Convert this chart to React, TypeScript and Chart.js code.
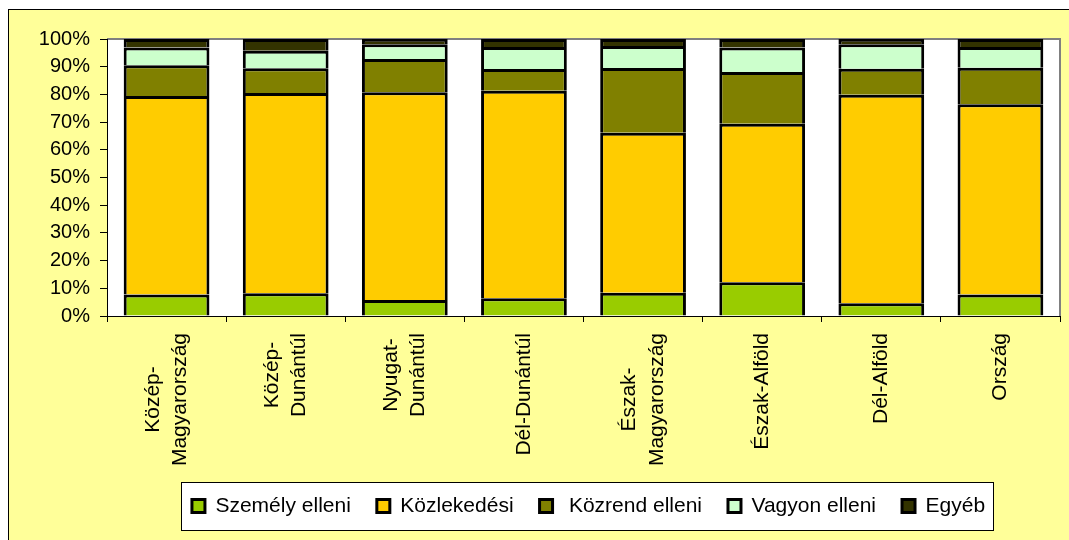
import React, { useEffect, useRef } from 'react';
import { Chart, registerables, CategoryScale } from 'chart.js';

Chart.register(...registerables);

// Category scale whose multi-line rotated labels are centred as a block on the tick,
// with each line centred along the reading direction (as in the reference).
class CenteredCategoryScale extends (CategoryScale as any) {
  static id = 'centeredCategory';
  static defaults = (CategoryScale as any).defaults;
  _computeLabelItems(chartArea: any) {
    const items = super._computeLabelItems(chartArea);
    const ctx = this.ctx;
    ctx.save();
    for (const item of items) {
      const lines = Array.isArray(item.label) ? item.label : [item.label];
      ctx.font = item.font.string;
      let maxW = 0;
      for (const l of lines) maxW = Math.max(maxW, ctx.measureText(String(l)).width);
      item.options.textAlign = 'center';
      item.options.translation[1] += maxW / 2;
      item.options.translation[0] -= ((lines.length - 1) * item.font.lineHeight) / 2;
    }
    ctx.restore();
    return items;
  }
}
Chart.register(CenteredCategoryScale as any);

const categories: (string | string[])[] = [
  ['Közép-', 'Magyarország'],
  ['Közép-', 'Dunántúl'],
  ['Nyugat-', 'Dunántúl'],
  'Dél-Dunántúl',
  ['Észak-', 'Magyarország'],
  'Észak-Alföld',
  'Dél-Alföld',
  'Ország',
];

const seriesNames = ['Személy elleni', 'Közlekedési', ' Közrend elleni', 'Vagyon elleni', 'Egyéb'];

const szemelyElleni = [7.8, 8.2, 5.8, 6.4, 8.4, 12.2, 4.6, 7.8];
const kozlekedesi = [71.6, 72.3, 75.0, 74.9, 57.8, 57.2, 75.3, 68.6];
const kozrendElleni = [11.1, 8.9, 12.0, 7.9, 23.3, 18.7, 9.4, 13.2];
const vagyonElleni = [6.4, 6.4, 5.3, 7.9, 8.0, 8.8, 8.8, 7.5];
const egyeb = [3.1, 4.2, 1.9, 2.9, 2.5, 3.1, 1.9, 2.9];

const yMin = 0;
const yMax = 100;
const yStep = 10;

const seriesColors = ['#99CC00', '#FFCC00', '#808000', '#CCFFCC', '#333300'];

const FONT = '"Liberation Sans", Arial, sans-serif';

const decorPlugin = {
  id: 'decor',
  afterLayout(chart: any) {
    const lg = chart.legend;
    if (lg) {
      lg.left += 5;
      lg.right += 5;
    }
  },
  beforeDraw(chart: any) {
    const { ctx, chartArea: a } = chart;
    ctx.save();
    ctx.fillStyle = '#ffffff';
    ctx.fillRect(a.left, a.top, a.right - a.left, a.bottom - a.top);
    ctx.strokeStyle = '#808080';
    ctx.lineWidth = 2;
    ctx.beginPath();
    ctx.moveTo(a.left, a.top);
    ctx.lineTo(a.right, a.top);
    ctx.lineTo(a.right, a.bottom);
    ctx.stroke();

    const lg = chart.legend;
    const hbs = lg && lg.legendHitBoxes;
    if (hbs && hbs.length) {
      const first = hbs[0];
      const last = hbs[hbs.length - 1];
      const cy = first.top + first.height / 2;
      const left = Math.round(first.left - 11) + 0.5;
      const right = Math.round(last.left + last.width + 8) + 0.5;
      const top = Math.round(cy - 24) + 0.5;
      const bottom = Math.round(cy + 24) + 0.5;
      ctx.fillStyle = '#ffffff';
      ctx.fillRect(left, top, right - left, bottom - top);
      ctx.strokeStyle = '#000000';
      ctx.lineWidth = 1;
      ctx.strokeRect(left, top, right - left, bottom - top);
    }
    ctx.restore();
  },
};

export default function App() {
  const canvasRef = useRef<HTMLCanvasElement | null>(null);

  useEffect(() => {
    if (!canvasRef.current) return;
    const values = [szemelyElleni, kozlekedesi, kozrendElleni, vagyonElleni, egyeb];
    const chart = new Chart(canvasRef.current, {
      type: 'bar',
      data: {
        labels: categories as any,
        datasets: values.map((v, i) => ({
          label: seriesNames[i],
          data: v,
          backgroundColor: seriesColors[i],
          borderColor: '#000000',
          borderWidth: 3,
          barPercentage: 0.72,
          categoryPercentage: 1,
        })),
      },
      options: {
        responsive: false,
        animation: false,
        devicePixelRatio: 1,
        layout: { padding: { top: 29, bottom: 13.5, left: 0, right: 9 } },
        scales: {
          x: {
            type: 'centeredCategory' as any,
            stacked: true,
            offset: true,
            grid: {
              offset: true,
              drawOnChartArea: false,
              drawTicks: true,
              tickLength: 6,
              tickColor: '#000000',
              tickWidth: 1,
            },
            border: { display: true, color: '#000000', width: 1 },
            ticks: {
              autoSkip: false,
              maxRotation: 90,
              minRotation: 90,
              padding: 11,
              color: '#000000',
              font: { family: FONT, size: 21, lineHeight: 1.3 },
            },
            afterFit: (scale: any) => {
              scale.height = 153.5;
            },
          } as any,
          y: {
            stacked: true,
            min: yMin,
            max: yMax,
            grid: {
              drawOnChartArea: false,
              drawTicks: true,
              tickLength: 7,
              tickColor: '#000000',
              tickWidth: 1,
            },
            border: { display: true, color: '#000000', width: 1 },
            ticks: {
              stepSize: yStep,
              padding: 10,
              color: '#000000',
              font: { family: FONT, size: 20 },
              callback: (v: any) => `${v}%`,
            },
            afterFit: (scale: any) => {
              scale.width = 98;
            },
          },
        },
        plugins: {
          tooltip: { enabled: false },
          legend: {
            position: 'bottom',
            fullSize: false,
            labels: {
              boxWidth: 13,
              boxHeight: 13,
              padding: 26,
              color: '#000000',
              font: { family: FONT, size: 21 },
            },
          },
        },
      },
      plugins: [decorPlugin],
    });
    return () => chart.destroy();
  }, []);

  return (
    <div
      style={{
        position: 'fixed',
        left: 0,
        top: 0,
        width: 1069,
        height: 540,
        overflow: 'hidden',
        background: '#ffffff',
      }}
    >
      <div
        style={{
          position: 'absolute',
          left: 8,
          top: 9,
          width: 1070,
          height: 540,
          background: '#FFFF99',
          borderTop: '1px solid #000000',
          borderLeft: '1px solid #000000',
        }}
      >
        <canvas
          ref={canvasRef}
          width={1060}
          height={530}
          style={{ display: 'block', width: 1060, height: 530 }}
        />
      </div>
    </div>
  );
}
